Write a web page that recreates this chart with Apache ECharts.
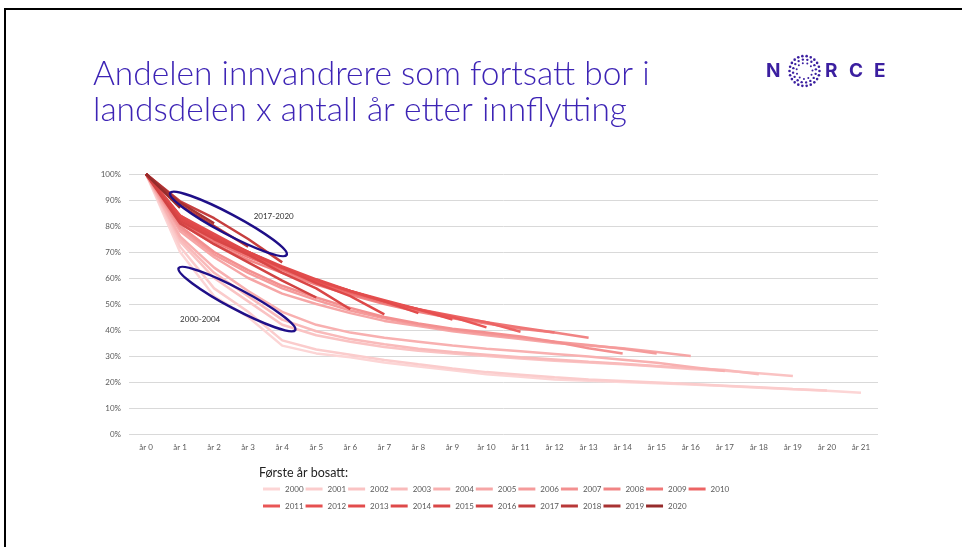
<!DOCTYPE html>
<html>
<head>
<meta charset="utf-8">
<script src="https://cdn.jsdelivr.net/npm/echarts@6/dist/echarts.min.js"></script>
<style>
  html, body { margin: 0; padding: 0; background: #fff; }
  #main { width: 962px; height: 547px; }
</style>
</head>
<body>
<div id="main"></div>
<script>
// x axis categories
const xLabels = ['år 0', 'år 1', 'år 2', 'år 3', 'år 4', 'år 5', 'år 6', 'år 7', 'år 8', 'år 9', 'år 10',
  'år 11', 'år 12', 'år 13', 'år 14', 'år 15', 'år 16', 'år 17', 'år 18', 'år 19', 'år 20', 'år 21']
const years = ['2000', '2001', '2002', '2003', '2004', '2005', '2006', '2007', '2008', '2009', '2010',
  '2011', '2012', '2013', '2014', '2015', '2016', '2017', '2018', '2019', '2020']

// share still living in the region (%), one array per first year settled
const y2000 = [100, 70, 53, 45, 34, 31, 29.5, 27.5, 26, 24.5, 23, 22, 21, 20.5, 20, 19.5, 19, 18.5, 17.8, 17.2, 16.6, 15.9]
const y2001 = [100, 72, 56, 47, 36, 32.5, 30.5, 28.5, 26.8, 25.2, 23.8, 22.8, 21.8, 21, 20.4, 19.8, 19.2, 18.6, 18, 17.3, 16.7]
const y2002 = [100, 74, 60, 51, 42, 38, 35.5, 33.5, 32, 31, 30, 29, 28.2, 27.5, 26.8, 26, 25, 24.3, 23.4, 22.3]
const y2003 = [100, 75, 62, 53, 44, 39.5, 36.5, 34.5, 32.8, 31.5, 30.5, 29.5, 28.7, 27.8, 27, 26.2, 25.4, 24.6, 23]
const y2004 = [100, 76, 64, 55, 47, 42, 39, 37, 35.5, 34, 32.8, 31.8, 30.8, 29.8, 28.6, 27.4, 25.8, 24.2]
const y2005 = [100, 78, 68, 60, 54, 50, 46.5, 43.5, 41.5, 39.5, 38, 36.5, 35, 34, 33, 31.5, 30]
const y2006 = [100, 79, 69, 62, 56, 51.5, 47.5, 44.5, 42, 40, 38.5, 37, 35.5, 34.2, 32.8, 31]
const y2007 = [100, 80, 70, 63, 57, 52.5, 48.5, 45, 42.5, 40.5, 39, 37.5, 35.5, 33, 31]
const y2008 = [100, 81, 73, 67, 62, 57.5, 53.5, 50, 47, 44.5, 42.5, 40.5, 39, 37]
const y2009 = [100, 82, 74, 68, 63, 58, 54, 50.5, 47.5, 45, 43, 41, 39]
const y2010 = [100, 82, 75, 69, 63.5, 58.5, 54.5, 51, 48, 45.5, 43, 39.3]
const y2011 = [100, 83, 75, 69, 64, 59, 55, 51, 48, 45, 41]
const y2012 = [100, 84, 76, 70, 64, 59, 55, 51.5, 48, 44]
const y2013 = [100, 84, 77, 70, 64.5, 59.5, 55, 51, 46.5]
const y2014 = [100, 83, 76, 70, 64, 58, 53, 46]
const y2015 = [100, 82, 75, 69, 62, 56, 48]
const y2016 = [100, 81, 73, 66, 59, 52.5]
const y2017 = [100, 89.5, 83, 75, 66]
const y2018 = [100, 88, 80, 72]
const y2019 = [100, 89, 81]
const y2020 = [100, 87]

const cohorts = [y2000, y2001, y2002, y2003, y2004, y2005, y2006, y2007, y2008, y2009, y2010,
  y2011, y2012, y2013, y2014, y2015, y2016, y2017, y2018, y2019, y2020]

const colors = ['#fcd5d5', '#fbcccc', '#fac3c3', '#f9baba', '#f8b0b0', '#f6a6a6', '#f59b9b', '#f39090',
  '#f18484', '#ef7676', '#ec6464', '#e95656', '#e65050', '#e24c4c', '#de4949', '#d94646', '#d24343',
  '#c63f3f', '#b83838', '#a83232', '#962b2b']

const font = 'Lato'
const chart = echarts.init(document.getElementById('main'))

const legendBase = {
  left: 258,
  icon: 'rect',
  itemWidth: 17,
  itemHeight: 3,
  itemGap: 2,
  textStyle: { fontFamily: font, fontSize: 8, color: '#595959' }
}

chart.setOption({
  animation: false,
  backgroundColor: '#fff',
  color: colors,
  title: {
    text: 'Andelen innvandrere som fortsatt bor i\nlandsdelen x antall år etter innflytting',
    left: 88,
    top: 51,
    textStyle: {
      fontFamily: font,
      fontWeight: 300,
      fontSize: 33.5,
      lineHeight: 36,
      color: '#3d24b5'
    }
  },
  legend: [
    Object.assign({}, legendBase, { top: 480, data: years.slice(0, 11) }),
    Object.assign({}, legendBase, { top: 497, data: years.slice(11) })
  ],
  grid: { left: 129, right: 84, top: 174, bottom: 113 },
  xAxis: {
    type: 'category',
    data: xLabels,
    boundaryGap: true,
    axisLine: { show: false },
    axisTick: { show: false },
    axisLabel: { fontFamily: font, fontSize: 8, color: '#595959', margin: 9 }
  },
  yAxis: {
    type: 'value',
    min: 0,
    max: 100,
    interval: 10,
    axisLabel: { fontFamily: font, fontSize: 8, color: '#595959', margin: 8, formatter: '{value}%' },
    splitLine: { lineStyle: { color: '#d9d9d9', width: 1 } }
  },
  series: cohorts.map((d, i) => ({
    name: years[i],
    type: 'line',
    data: d,
    symbol: 'none',
    lineStyle: { width: 2.5, color: colors[i] },
    itemStyle: { color: colors[i] }
  }))
})

// annotations: place ellipses relative to the axes
function px(idx, val) {
  const i0 = Math.floor(idx)
  const a = chart.convertToPixel({ gridIndex: 0 }, [i0, val])
  const b = chart.convertToPixel({ gridIndex: 0 }, [i0 + 1, val])
  return [a[0] + (b[0] - a[0]) * (idx - i0), a[1]]
}
const e1 = px(2.42, 80.8)
const e2 = px(2.67, 51.9)
const l1 = px(3.75, 83.5)
const l2 = px(1.59, 44)

// NORCE logo dots
const logoDots = []
const rings = [[15, 22, 1.3], [11.5, 16, 1.2], [8, 11, 1.0]]
rings.forEach(([r, n, s], k) => {
  for (let j = 0; j < n; j++) {
    const t = (j / n) * Math.PI * 2 + k * 0.25
    logoDots.push({
      type: 'circle',
      shape: { cx: 804.5 + r * Math.cos(t), cy: 71 + r * Math.sin(t), r: s },
      style: { fill: '#3b1fa0' }
    })
  }
})

const logoFont = { fontFamily: 'Inter', fontWeight: 'bold', fontSize: 19, fill: '#3b1fa0' }

chart.setOption({
  graphic: [
    {
      type: 'polyline',
      shape: { points: [[5, 547], [5, 9], [962, 9]] },
      style: { stroke: '#000', lineWidth: 2, fill: null }
    },
    {
      type: 'ellipse',
      x: e1[0], y: e1[1],
      rotation: -28 * Math.PI / 180,
      shape: { cx: 0, cy: 0, rx: 66, ry: 10 },
      style: { stroke: '#1f0f88', lineWidth: 2.5, fill: null },
      z: 100
    },
    {
      type: 'ellipse',
      x: e2[0], y: e2[1],
      rotation: -28 * Math.PI / 180,
      shape: { cx: 0, cy: 0, rx: 66, ry: 10 },
      style: { stroke: '#1f0f88', lineWidth: 2.5, fill: null },
      z: 100
    },
    {
      type: 'text', x: l1[0], y: l1[1], z: 100,
      style: { text: '2017-2020', fontFamily: font, fontSize: 8, fill: '#333', align: 'center', verticalAlign: 'middle' }
    },
    {
      type: 'text', x: l2[0], y: l2[1], z: 100,
      style: { text: '2000-2004', fontFamily: font, fontSize: 8, fill: '#333', align: 'center', verticalAlign: 'middle' }
    },
    {
      type: 'text', x: 259, y: 473,
      style: { text: 'Første år bosatt:', fontFamily: font, fontSize: 12.5, fill: '#222', verticalAlign: 'middle' }
    },
    { type: 'text', x: 766, y: 71, style: Object.assign({ text: 'N', verticalAlign: 'middle' }, logoFont) },
    { type: 'text', x: 825, y: 71, style: Object.assign({ text: 'R', verticalAlign: 'middle' }, logoFont) },
    { type: 'text', x: 849, y: 71, style: Object.assign({ text: 'C', verticalAlign: 'middle' }, logoFont) },
    { type: 'text', x: 874, y: 71, style: Object.assign({ text: 'E', verticalAlign: 'middle' }, logoFont) },
    { type: 'group', children: logoDots }
  ]
})
</script>
</body>
</html>
